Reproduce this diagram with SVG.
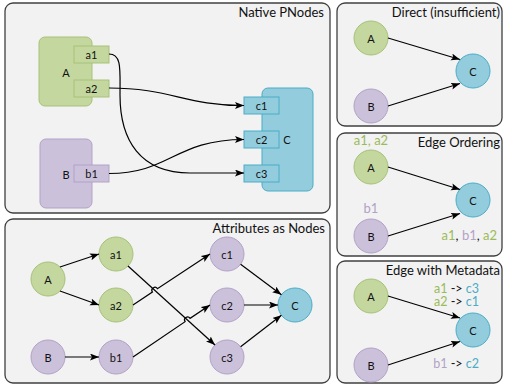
<svg xmlns="http://www.w3.org/2000/svg" width="505" height="385" viewBox="0 0 505 385">
<defs>
<marker id="arr" markerWidth="10" markerHeight="8" refX="9" refY="3.5" orient="auto" markerUnits="userSpaceOnUse">
<path d="M0,0 L9,3.5 L0,7 L2,3.5 z" fill="#000"/>
</marker>
<style>
.panel{fill:#f2f2f2;stroke:#404040;stroke-width:1.3}
.title{font-family:Lato,"Liberation Sans",sans-serif;font-size:13px;fill:#111;text-anchor:end}
.lbl{font-family:Lato,"Liberation Sans",sans-serif;font-size:11px;fill:#111;text-anchor:middle;dominant-baseline:central}
.g{fill:#c4d79f;stroke:#a6c278;stroke-width:1}
.p{fill:#ccc1da;stroke:#b2a1c7;stroke-width:1}
.b{fill:#93cddd;stroke:#4bacc6;stroke-width:1}
.e{fill:none;stroke:#000;stroke-width:1.2;marker-end:url(#arr)}
.ann{font-family:Lato,"Liberation Sans",sans-serif;font-size:13px}
.meta{font-family:Lato,"Liberation Sans",sans-serif;font-size:12.5px}
.tg{fill:#9bbb59}.tp{fill:#b3a2c7}.tb{fill:#4bacc6}.tk{fill:#111}
</style>
</defs>

<!-- Panels -->
<g id="panel-native">
<rect class="panel" x="5" y="3" width="325" height="210" rx="8"/>
<text class="title" x="324" y="17">Native PNodes</text>
</g>
<g id="panel-attr">
<rect class="panel" x="5" y="219" width="325" height="164" rx="8"/>
<text class="title" x="325" y="233">Attributes as Nodes</text>
</g>
<g id="panel-direct">
<rect class="panel" x="337" y="3" width="165" height="123" rx="8"/>
<text class="title" x="500" y="17">Direct (insufficient)</text>
</g>
<g id="panel-order">
<rect class="panel" x="337" y="133" width="165" height="123" rx="8"/>
<text class="title" x="500" y="147">Edge Ordering</text>
</g>
<g id="panel-meta">
<rect class="panel" x="337" y="261" width="165" height="122" rx="8"/>
<text class="title" x="500" y="275">Edge with Metadata</text>
</g>

<!-- Native PNodes nodes -->
<g id="n1-A">
<rect class="g" x="39" y="37" width="53" height="69" rx="6"/>
<text class="lbl" x="66" y="72">A</text>
</g>
<g id="n1-a1"><rect class="g" x="74" y="46" width="35" height="17"/><text class="lbl" x="91.5" y="54.5">a1</text></g>
<g id="n1-a2"><rect class="g" x="74" y="80" width="35" height="17"/><text class="lbl" x="91.5" y="88.5">a2</text></g>
<g id="n1-B">
<rect class="p" x="40" y="139" width="52" height="69" rx="6"/>
<text class="lbl" x="66" y="174">B</text>
</g>
<g id="n1-b1"><rect class="p" x="74" y="165" width="35" height="17"/><text class="lbl" x="91.5" y="173.5">b1</text></g>
<g id="n1-C">
<rect class="b" x="262" y="88" width="51" height="103" rx="6"/>
<text class="lbl" x="287" y="139">C</text>
</g>
<g id="n1-c1"><rect class="b" x="244" y="97" width="35" height="17"/><text class="lbl" x="261.5" y="105.5">c1</text></g>
<g id="n1-c2"><rect class="b" x="244" y="131" width="35" height="17"/><text class="lbl" x="261.5" y="139.5">c2</text></g>
<g id="n1-c3"><rect class="b" x="244" y="165" width="35" height="17"/><text class="lbl" x="261.5" y="173.5">c3</text></g>

<!-- Attributes as Nodes -->
<g id="n2-A"><circle class="g" cx="48" cy="279" r="17"/><text class="lbl" x="48" y="279">A</text></g>
<g id="n2-a1"><circle class="g" cx="116" cy="254" r="17"/><text class="lbl" x="116" y="254">a1</text></g>
<g id="n2-a2"><circle class="g" cx="116" cy="305" r="17"/><text class="lbl" x="116" y="305">a2</text></g>
<g id="n2-B"><circle class="p" cx="48" cy="357" r="17"/><text class="lbl" x="48" y="357">B</text></g>
<g id="n2-b1"><circle class="p" cx="116" cy="357" r="17"/><text class="lbl" x="116" y="357">b1</text></g>
<g id="n2-c1"><circle class="p" cx="227" cy="254" r="17"/><text class="lbl" x="227" y="254">c1</text></g>
<g id="n2-c2"><circle class="p" cx="227" cy="305" r="17"/><text class="lbl" x="227" y="305">c2</text></g>
<g id="n2-c3"><circle class="p" cx="227" cy="357" r="17"/><text class="lbl" x="227" y="357">c3</text></g>
<g id="n2-C"><circle class="b" cx="295" cy="305" r="17"/><text class="lbl" x="295" y="305">C</text></g>

<!-- Direct -->
<g id="n3-A"><circle class="g" cx="371" cy="38" r="17"/><text class="lbl" x="371" y="38">A</text></g>
<g id="n3-B"><circle class="p" cx="371" cy="106" r="17"/><text class="lbl" x="371" y="106">B</text></g>
<g id="n3-C"><circle class="b" cx="473" cy="71" r="17"/><text class="lbl" x="473" y="71">C</text></g>

<!-- Edge Ordering -->
<g id="n4-A"><circle class="g" cx="371" cy="167" r="17"/><text class="lbl" x="371" y="167">A</text></g>
<g id="n4-B"><circle class="p" cx="371" cy="236" r="17"/><text class="lbl" x="371" y="236">B</text></g>
<g id="n4-C"><circle class="b" cx="473" cy="200" r="17"/><text class="lbl" x="473" y="200">C</text></g>
<g id="n4-labels" class="ann">
<text x="371" y="145" text-anchor="middle"><tspan class="tg">a1, a2</tspan></text>
<text x="371" y="213" text-anchor="middle"><tspan class="tp">b1</tspan></text>
<text x="497" y="240" text-anchor="end"><tspan class="tg">a1</tspan><tspan class="tk">, </tspan><tspan class="tp">b1</tspan><tspan class="tk">, </tspan><tspan class="tg">a2</tspan></text>
</g>

<!-- Edge with Metadata -->
<g id="n5-A"><circle class="g" cx="371" cy="296" r="17"/><text class="lbl" x="371" y="296">A</text></g>
<g id="n5-B"><circle class="p" cx="371" cy="365" r="17"/><text class="lbl" x="371" y="365">B</text></g>
<g id="n5-C"><circle class="b" cx="473" cy="330" r="17"/><text class="lbl" x="473" y="330">C</text></g>
<g id="n5-labels" class="meta">
<text x="479" y="293" text-anchor="end"><tspan class="tg">a1</tspan><tspan class="tk"> -&gt; </tspan><tspan class="tb">c3</tspan></text>
<text x="479" y="306" text-anchor="end"><tspan class="tg">a2</tspan><tspan class="tk"> -&gt; </tspan><tspan class="tb">c1</tspan></text>
<text x="479" y="368" text-anchor="end"><tspan class="tp">b1</tspan><tspan class="tk"> -&gt; </tspan><tspan class="tb">c2</tspan></text>
</g>

<!-- Connectors -->
<g id="connectors">
<path class="e" d="M109,54 C122,54 120,70 120,95 C120,140 140,173 190,173 L244,173"/>
<path class="e" d="M109,88 C170,88 185,105.5 244,105.5"/>
<path class="e" d="M109,173.5 C170,173.5 175,139.5 244,139.5"/>

<path class="e" d="M60,267 L99,254"/>
<path class="e" d="M60,291 L99,305"/>
<path class="e" d="M65,357 L99,357"/>
<path class="e" d="M128,266 L215,345"/>
<path class="e" d="M133,305 L152.4,292.1 A3,3 0 0 1 157.4,288.7 L210,254"/>
<path class="e" d="M133,357 L185.1,321.7 A3,3 0 0 1 190.1,318.3 L210,305"/>
<path class="e" d="M240.6,264.2 L281.4,294.8"/>
<path class="e" d="M244,305 L278,305"/>
<path class="e" d="M240.6,346.8 L281.4,315.2"/>

<path class="e" d="M388,38 L460,59.5"/>
<path class="e" d="M388,106 L460,83.5"/>
<path class="e" d="M388,167 L460,189.5"/>
<path class="e" d="M388,236 L460,213.5"/>
<path class="e" d="M388,296 L460,318"/>
<path class="e" d="M388,365 L460,341.5"/>
</g>
</svg>
